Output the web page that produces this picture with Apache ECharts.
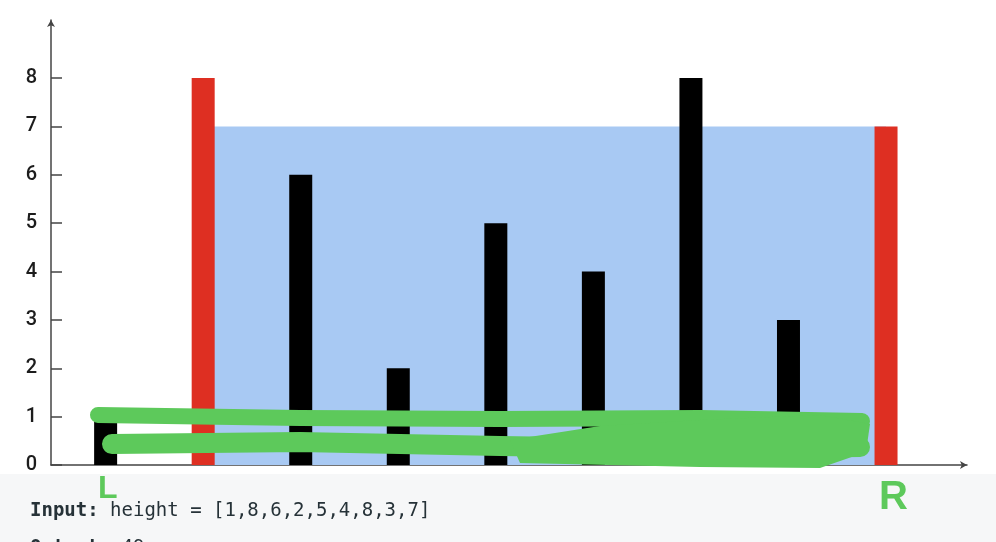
<!DOCTYPE html>
<html>
<head>
<meta charset="utf-8">
<script src="https://cdn.jsdelivr.net/npm/echarts@6/dist/echarts.min.js"></script>
<style>
html,body{margin:0;padding:0;background:#fff;}
#chart{width:996px;height:542px;}
</style>
</head>
<body>
<div id="chart"></div>
<script>
// ---- data ----
const heights = [1, 8, 6, 2, 5, 4, 8, 3, 7];
const yTicks = [0, 1, 2, 3, 4, 5, 6, 7, 8];
const wallLeft = 1;   // L pointer (index)
const wallRight = 8;  // R pointer (index)
const inputText = 'height = [1,8,6,2,5,4,8,3,7]';
const outputText = '49';

const waterLevel = Math.min(heights[wallLeft], heights[wallRight]);
const RED = '#de2f22', BLACK = '#000000', BLUE = '#a8c9f3', GREEN = '#5dc95b', AXIS = '#444444';

const barData = heights.map((h, i) => ({
  value: [i, h],
  itemStyle: { color: (i === wallLeft || i === wallRight) ? RED : BLACK }
}));

const chart = echarts.init(document.getElementById('chart'), null, { renderer: 'canvas' });
chart.setOption({
  animation: false,
  backgroundColor: '#ffffff',
  grid: { left: 51, right: 29, top: 20, bottom: 77, containLabel: false, outerBoundsMode: 'none' },
  xAxis: {
    type: 'value', min: -0.56, max: 8.83,
    axisLine: { show: true, onZero: false, lineStyle: { color: AXIS, width: 1.5 }, symbol: ['none', 'arrow'], symbolSize: [6, 7] },
    axisTick: { show: false }, axisLabel: { show: false }, splitLine: { show: false }
  },
  yAxis: {
    type: 'value', min: 0, max: 9.2,
    axisLine: { show: true, onZero: false, lineStyle: { color: AXIS, width: 1.5 }, symbol: ['none', 'arrow'], symbolSize: [6, 7] },
    axisTick: { show: true, inside: true, length: 11, lineStyle: { color: AXIS, width: 1.5 }, customValues: yTicks },
    axisLabel: { show: true, margin: 14, color: '#1c1c1c', fontSize: 20, fontWeight: 500, fontFamily: 'Roboto, "Liberation Sans", Arial, sans-serif', customValues: yTicks },
    splitLine: { show: false }
  },
  series: [
    {
      type: 'custom', z: 1,
      data: [[wallLeft, wallRight, waterLevel]],
      renderItem: function (params, api) {
        const p0 = api.coord([api.value(0), api.value(2)]);
        const p1 = api.coord([api.value(1), 0]);
        return { type: 'rect', shape: { x: p0[0], y: p0[1], width: p1[0] - p0[0], height: p1[1] - p0[1] }, style: { fill: BLUE } };
      }
    },
    { type: 'bar', z: 3, barWidth: 23, data: barData }
  ],
  graphic: [
    { type: 'rect', z: 50, shape: { x: 0, y: 474, width: 996, height: 68 }, style: { fill: '#f6f7f8' } },
    { type: 'polyline', z: 60, shape: { points: [[98,415],[300,418],[500,419],[700,418],[862,421]] }, style: { stroke: GREEN, lineWidth: 16, lineCap: 'round', lineJoin: 'round', fill: null } },
    { type: 'polyline', z: 60, shape: { points: [[112,444],[300,442],[500,446],[700,449],[860,447]] }, style: { stroke: GREEN, lineWidth: 20, lineCap: 'round', lineJoin: 'round', fill: null } },
    { type: 'polygon', z: 60, shape: { points: [[510,440],[600,426],[700,420],[820,415],[870,424],[866,452],[820,468],[700,467],[520,463]] }, style: { fill: GREEN } },
    { type: 'text', z: 70, style: { x: 98, y: 473, text: 'L', fill: GREEN, font: 'bold 32px "Liberation Sans", Arial, sans-serif' } },
    { type: 'text', z: 70, style: { x: 879, y: 478, text: 'R', fill: GREEN, font: 'bold 40px "Liberation Sans", Arial, sans-serif' } },
    { type: 'text', z: 70, style: {
        x: 30, y: 511, verticalAlign: 'middle',
        text: '{b|Input:} {n|' + inputText + '}',
        rich: {
          b: { fontFamily: 'DejaVu Sans Mono, monospace', fontSize: 19, fontWeight: 'bold', fill: '#263238' },
          n: { fontFamily: 'DejaVu Sans Mono, monospace', fontSize: 19, fill: '#263238' }
        },
        fontFamily: 'DejaVu Sans Mono, monospace', fontSize: 19
    } },
    { type: 'text', z: 70, style: {
        x: 30, y: 548, verticalAlign: 'middle',
        text: '{b|Output:} {n|' + outputText + '}',
        rich: {
          b: { fontFamily: 'DejaVu Sans Mono, monospace', fontSize: 19, fontWeight: 'bold', fill: '#263238' },
          n: { fontFamily: 'DejaVu Sans Mono, monospace', fontSize: 19, fill: '#263238' }
        },
        fontFamily: 'DejaVu Sans Mono, monospace', fontSize: 19
    } }
  ]
});
</script>
</body>
</html>
